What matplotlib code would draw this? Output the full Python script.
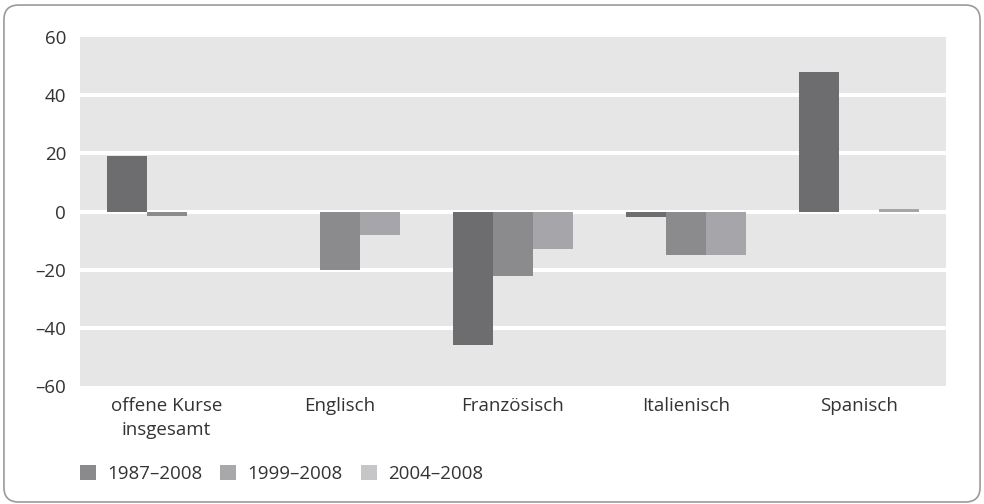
import matplotlib.pyplot as plt
import numpy as np
from matplotlib.patches import FancyBboxPatch, Patch
from matplotlib import font_manager

# data
categories = ['offene Kurse\ninsgesamt', 'Englisch', 'Französisch', 'Italienisch', 'Spanisch']
series_names = ['1987–2008', '1999–2008', '2004–2008']
v_1987 = [19, 0, -46, -2, 48]
v_1999 = [-1.5, -20, -22, -15, 0]
v_2004 = [0, -8, -13, -15, 1]
yticks = [-60, -40, -20, 0, 20, 40, 60]

bar_colors = ['#6d6d6f', '#8b8b8d', '#a6a6aa']
legend_colors = ['#8a8a8c', '#a8a8aa', '#c6c6c8']

names = {f.name for f in font_manager.fontManager.ttflist}
font = 'Liberation Sans Narrow' if 'Liberation Sans Narrow' in names else 'Open Sans'
plt.rcParams['font.family'] = [font, 'DejaVu Sans']
txt = '#333333'

fig = plt.figure(figsize=(9.84, 5.04), dpi=100)
# rounded frame round the whole chart
fig.patches.append(FancyBboxPatch((0.004, 0.004), 0.992, 0.986, boxstyle='round,pad=0,rounding_size=0.015',
                                  transform=fig.transFigure, facecolor='white', zorder=-5,
                                  edgecolor='#9a9a9a', linewidth=1.2, mutation_aspect=984 / 504))
ax = fig.add_axes([0.0813, 0.234, 0.88, 0.6926])
ax.set_facecolor('#e6e6e6')

x = np.arange(len(categories))
w = 0.231
for i, vals in enumerate([v_1987, v_1999, v_2004]):
    ax.bar(x + (i - 1) * w, vals, width=w, color=bar_colors[i], zorder=3)

ax.set_xlim(-0.5, len(categories) - 0.5)
ax.set_ylim(-60, 60)
for t in yticks[1:-1]:
    ax.axhline(t, color='white', linewidth=2.9, zorder=2)

ax.set_yticks(yticks)
ax.set_yticklabels([str(t).replace('-', '–') for t in yticks], fontsize=13.5, color=txt)
ax.set_xticks(x)
ax.set_xticklabels(categories, fontsize=13.5, color=txt, linespacing=1.45)
ax.tick_params(length=0, pad=10)
ax.tick_params(axis='x', pad=8)
for s in ax.spines.values():
    s.set_visible(False)

handles = [Patch(facecolor=c, edgecolor='none') for c in legend_colors]
fig.legend(handles, series_names, loc='lower left', bbox_to_anchor=(0.064, 0.009), ncol=3,
           frameon=False, fontsize=13.5, handlelength=0.85, handleheight=0.85,
           handletextpad=0.6, columnspacing=0.96, labelcolor=txt)

fig.savefig('out.png', dpi=100)
